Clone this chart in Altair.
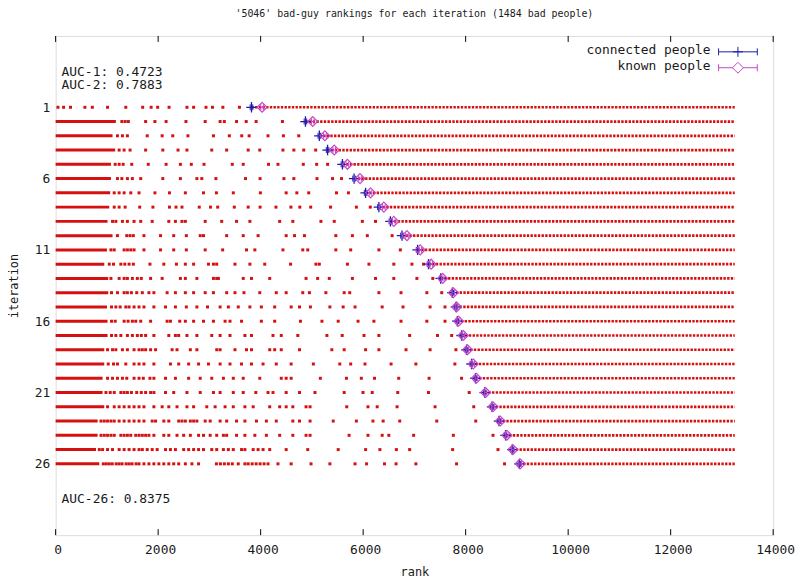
import altair as alt
import pandas as pd

# ---------------- data ----------------
iterations = list(range(1, 27))

# end of the solid (contiguous) run of red dots that starts at rank 0 (row 1 has none)
solid_end = [0, 1175, 1110, 1162, 1079, 1079, 1065, 1046, 1013, 1110, 1001, 949, 1026,
             1026, 1001, 1013, 1013, 949, 949, 916, 916, 949, 819, 819, 788, 852]

# isolated red dots between the solid run and the marker, per iteration
sparse = [
    [45, 155, 290, 571, 716, 1013, 1369, 1698, 1863, 1991, 2213, 2562, 2692, 2934, 3060, 3263, 3586],
    [1292, 1356, 1419, 1756, 1937, 2155, 2543, 2918, 3209, 3292, 3530, 3718, 3912, 4425],
    [1206, 1303, 1400, 1787, 2078, 2285, 2581, 3079, 3389, 3631, 3776, 4144, 4444, 4744],
    [1239, 1336, 1452, 1756, 2091, 2388, 2562, 3046, 3337, 3757, 3983, 4435, 4648, 4841, 5074],
    [1162, 1239, 1317, 1485, 1807, 2155, 2434, 2647, 2895, 3447, 3660, 4154, 4338, 4832, 5093, 5306],
    [1206, 1292, 1400, 1497, 1660, 2091, 2434, 2756, 2852, 3127, 3705, 3989, 4454, 4648, 5099, 5403, 5577],
    [1143, 1239, 1336, 1466, 1627, 1937, 2221, 2531, 2885, 3137, 3466, 3995, 4498, 4706, 4938, 5480, 5713],
    [1143, 1239, 1356, 1640, 1898, 2221, 2349, 2465, 2802, 3021, 3162, 3486, 3757, 3989, 4299, 4590, 4764,
     4977, 5364, 5868, 6139],
    [1110, 1175, 1303, 1400, 1530, 1660, 1884, 2208, 2337, 2465, 2531, 2918, 3240, 3530, 3790, 4371, 4628,
     5176, 5436, 5984, 6241],
    [1206, 1388, 1452, 1516, 1723, 2047, 2304, 2550, 2821, 2885, 3337, 3660, 3950, 4498, 4661, 4855, 5467,
     5790, 6081, 6565],
    [1079, 1143, 1336, 1400, 1466, 1530, 1723, 2047, 2304, 2550, 2918, 3259, 3724, 3887, 4435, 4822, 4919,
     5467, 5757, 6307, 6726],
    [1046, 1129, 1272, 1350, 1433, 1516, 1840, 2111, 2357, 2531, 2692, 2982, 3079, 3143, 3499, 3790, 4080,
     4584, 5079, 5145, 5693, 6113, 6598, 6952, 7179],
    [1079, 1239, 1336, 1400, 1497, 1594, 1671, 1853, 2078, 2434, 2531, 2756, 3079, 3143, 3176, 3660, 3821,
     4177, 4886, 5112, 5339, 5790, 6241, 6598, 7049, 7359],
    [1090, 1206, 1336, 1400, 1478, 1582, 1691, 1820, 1917, 2175, 2337, 2531, 2692, 2918, 3079, 3337, 3499,
     3674, 3983, 4305, 4498, 4822, 4952, 5273, 5630, 5738, 6307, 6739, 7243, 7533],
    [1090, 1175, 1259, 1369, 1433, 1530, 1627, 1723, 1917, 2144, 2337, 2550, 2756, 2963, 3209, 3370, 3563,
     3790, 4014, 4274, 4595, 4758, 4971, 5351, 5610, 5842, 6371, 6778, 7306, 7597],
    [1090, 1162, 1336, 1414, 1497, 1563, 1660, 1853, 2175, 2240, 2421, 2531, 2692, 2885, 3079, 3306, 3402,
     3627, 4014, 4274, 4777, 5196, 5513, 5900, 6210, 6739, 7243, 7597],
    [1090, 1175, 1272, 1400, 1497, 1594, 1671, 1756, 1917, 2208, 2337, 2401, 2562, 2756, 3046, 3209, 3402,
     3693, 3821, 4241, 4402, 4725, 5293, 5591, 6017, 6307, 6907, 7450, 7727],
    [1013, 1110, 1175, 1303, 1400, 1530, 1627, 1691, 1756, 1853, 1950, 2272, 2368, 2628, 2756, 3143, 3209,
     3499, 3724, 3821, 4177, 4274, 4402, 4758, 5389, 5630, 6048, 6307, 6836, 7306, 7810],
    [1026, 1129, 1206, 1369, 1530, 1627, 1723, 1917, 2240, 2401, 2595, 2789, 2982, 3209, 3402, 3627, 3821,
     4047, 4305, 4595, 5029, 5544, 5757, 6036, 6545, 7029, 7790],
    [1013, 1110, 1206, 1303, 1388, 1530, 1627, 1710, 1840, 1917, 2144, 2337, 2595, 2821, 3046, 3273, 3466,
     3660, 3983, 4402, 4498, 4595, 5165, 5674, 5964, 6222, 6694, 7287, 7920],
    [982, 1065, 1143, 1272, 1336, 1400, 1478, 1582, 1671, 1756, 1853, 1917, 2144, 2304, 2562, 2821, 3079,
     3209, 3466, 3660, 3906, 4144, 4241, 4498, 4758, 5060, 5630, 5997, 6177, 6675, 7275, 8069],
    [1013, 1143, 1239, 1336, 1433, 1530, 1627, 1723, 1917, 2078, 2208, 2368, 2562, 2692, 2949, 3112, 3306,
     3466, 3693, 3854, 4177, 4371, 4498, 4628, 4886, 4964, 5680, 6094, 6274, 6662, 7403, 8158],
    [885, 949, 1013, 1079, 1143, 1239, 1336, 1433, 1530, 1627, 1723, 1884, 1950, 2111, 2208, 2401, 2465,
     2531, 2628, 2692, 2756, 2918, 3015, 3209, 3337, 3530, 3693, 3918, 4112, 4305, 4628, 4758, 4964, 5416,
     5868, 6191, 6390, 6714, 7436, 8197],
    [885, 949, 1013, 1079, 1143, 1272, 1336, 1400, 1466, 1563, 1627, 1691, 1756, 1820, 1917, 2111, 2208,
     2368, 2498, 2628, 2789, 2885, 3015, 3143, 3273, 3337, 3530, 3693, 3887, 4112, 4371, 4628, 4886, 4964,
     5726, 6094, 6371, 6501, 6985, 7760, 8534],
    [852, 916, 1013, 1110, 1239, 1336, 1433, 1530, 1627, 1691, 1787, 1884, 1981, 2144, 2240, 2337, 2498,
     2595, 2692, 2789, 2885, 3046, 3143, 3273, 3370, 3466, 3627, 3693, 3854, 3950, 4047, 4177, 4498, 4919,
     5513, 6048, 6327, 6648, 6907, 7746, 8631],
    [930, 988, 1046, 1104, 1181, 1239, 1297, 1375, 1433, 1491, 1569, 1627, 1723, 1820, 1917, 2014, 2111,
     2208, 2304, 2401, 2531, 2659, 2789, 3137, 3215, 3292, 3370, 3447, 3563, 3693, 3757, 3834, 3912, 3989,
     4067, 4144, 4338, 4595, 4983, 5351, 5842, 6067, 6416, 6642, 7029, 7823, 8759],
]

# mean rank of connected / known people per iteration (with x error)
connected_rank = [3821, 4874, 5145, 5306, 5596, 5823, 6048, 6307, 6532, 6758, 7062, 7275, 7513,
                  7740, 7810, 7837, 7920, 8017, 8114, 8191, 8371, 8515, 8650, 8778, 8908, 9049]
known_rank = [4028, 5016, 5254, 5436, 5693, 5939, 6144, 6404, 6598, 6855, 7113, 7326, 7552,
              7759, 7823, 7862, 7953, 8036, 8147, 8211, 8391, 8534, 8675, 8805, 8921, 9063]
connected_err = [25, 25, 25, 25, 25, 25, 25, 25, 25, 25, 25, 25, 25,
                 25, 25, 25, 25, 25, 25, 25, 25, 25, 25, 25, 25, 25]
known_err = [25, 25, 25, 25, 25, 25, 25, 25, 25, 25, 25, 25, 25,
             25, 25, 25, 25, 25, 25, 25, 25, 25, 25, 25, 25, 25]

last_rank = 13250  # everyone ranked after the marker is dense up to here

x_ticks = [0, 2000, 4000, 6000, 8000, 10000, 12000, 14000]
y_ticks = [1, 6, 11, 16, 21, 26]

title_text = "'5046' bad-guy rankings for each iteration (1484 bad people)"
auc_texts = ["AUC-1: 0.4723", "AUC-2: 0.7883", "AUC-26: 0.8375"]
legend_labels = ["connected people", "known people"]

# ---------------- tables ----------------
dots_df = pd.DataFrame([{"iteration": it, "rank": r}
                        for it, row in zip(iterations, sparse) for r in row])
solid_df = pd.DataFrame([{"iteration": it, "start": 0, "end": e}
                         for it, e in zip(iterations, solid_end) if e > 0])
dense_df = pd.DataFrame({"iteration": iterations, "start": connected_rank,
                         "end": [last_rank] * len(iterations)})
mk_df = pd.DataFrame({
    "iteration": iterations,
    "conn": connected_rank,
    "conn_lo": [c - e for c, e in zip(connected_rank, connected_err)],
    "conn_hi": [c + e for c, e in zip(connected_rank, connected_err)],
    "known": known_rank,
    "known_lo": [k - e for k, e in zip(known_rank, known_err)],
    "known_hi": [k + e for k, e in zip(known_rank, known_err)],
})
tick_df = pd.DataFrame({"t": x_ticks})

# ---------------- styling ----------------
W, H = 723, 503
FONT = "DejaVu Sans Mono"
RED = "#d60f0f"
BLUE = "#1c1cae"
MAG = "#c845c8"
TXT = "#1a1a1a"
PLUS = "M-1,0H1M0,-1V1"
VBAR = "M0,-1V1"
DIAM = "M0,-1L1,0L0,1L-1,0Z"

XS = alt.Scale(domain=[0, 14000], nice=False, zero=False)
YS = alt.Scale(domain=[-4, 31], reverse=True, nice=False, zero=False)
x_axis = alt.Axis(values=x_ticks, title="rank", format="d", grid=False, ticks=False, domain=False,
                  labelFont=FONT, labelFontSize=13, labelColor=TXT, labelPadding=8, labelOffset=2,
                  labelFlush=False, titleFont=FONT, titleFontSize=12, titleFontWeight="normal",
                  titleColor=TXT, titleY=37, titleBaseline="middle")
y_axis = alt.Axis(values=y_ticks, title="iteration", format="d", grid=False, ticks=False, domain=False,
                  labelFont=FONT, labelFontSize=13, labelColor=TXT, labelPadding=6,
                  titleFont=FONT, titleFontSize=12, titleFontWeight="normal", titleColor=TXT,
                  titleX=-42, titleY=H / 2, titleAngle=270, titleBaseline="middle", titleAlign="center")


def X(f):
    return alt.X(f"{f}:Q", scale=XS, axis=x_axis)


def Y(f="iteration"):
    return alt.Y(f"{f}:Q", scale=YS, axis=y_axis)


layers = []

# dense region (right of the marker)
layers.append(alt.Chart(dense_df).mark_rule(color=RED, strokeWidth=2.7, strokeDash=[2.4, 1.3])
              .encode(x=X("start"), x2="end", y=Y()))
# solid run from rank 0
layers.append(alt.Chart(solid_df).mark_rule(color=RED, strokeWidth=3)
              .encode(x=X("start"), x2="end", y=Y()))
# isolated dots
layers.append(alt.Chart(dots_df).mark_square(color=RED, size=9, opacity=1)
              .encode(x=X("rank"), y=Y()))

# connected people: + with x error bars
mk = alt.Chart(mk_df)
layers.append(mk.mark_rule(color=BLUE, strokeWidth=1).encode(x=X("conn_lo"), x2="conn_hi", y=Y()))
layers.append(mk.mark_point(shape=VBAR, size=36, filled=False, color=BLUE, opacity=1, strokeWidth=1)
              .encode(x=X("conn_lo"), y=Y()))
layers.append(mk.mark_point(shape=VBAR, size=36, filled=False, color=BLUE, opacity=1, strokeWidth=1)
              .encode(x=X("conn_hi"), y=Y()))
layers.append(mk.mark_point(shape=PLUS, size=110, filled=False, color=BLUE, opacity=1, strokeWidth=1.3)
              .encode(x=X("conn"), y=Y()))
# known people: diamond with x error bars
layers.append(mk.mark_rule(color=MAG, strokeWidth=1).encode(x=X("known_lo"), x2="known_hi", y=Y()))
layers.append(mk.mark_point(shape=VBAR, size=36, filled=False, color=MAG, opacity=1, strokeWidth=1)
              .encode(x=X("known_lo"), y=Y()))
layers.append(mk.mark_point(shape=VBAR, size=36, filled=False, color=MAG, opacity=1, strokeWidth=1)
              .encode(x=X("known_hi"), y=Y()))
layers.append(mk.mark_point(shape=DIAM, size=100, filled=False, color=MAG, opacity=1, strokeWidth=1.2)
              .encode(x=X("known"), y=Y()))

# inward tick marks (bottom and mirrored top)
tk = alt.Chart(tick_df)
layers.append(tk.mark_rule(color="black", strokeWidth=1)
              .encode(x=X("t"), y=alt.value(H), y2=alt.value(H - 6)))
layers.append(tk.mark_rule(color="black", strokeWidth=1)
              .encode(x=X("t"), y=alt.value(0), y2=alt.value(6)))

# AUC annotations
one = pd.DataFrame({"k": [0]})
for txt, px, py in zip(auc_texts, [6, 6, 6], [36, 49.7, 467]):
    layers.append(alt.Chart(one).mark_text(text=txt, align="left", baseline="middle", font=FONT,
                                           fontSize=13, color=TXT)
                  .encode(x=alt.value(px), y=alt.value(py)))

# key (top right, inside the frame)
for lab, ty, ly, col, sym, ssize in [(legend_labels[0], 14.5, 16, BLUE, PLUS, 100),
                                     (legend_labels[1], 30.5, 32, MAG, DIAM, 120)]:
    layers.append(alt.Chart(one).mark_text(text=lab, align="right", baseline="middle", font=FONT,
                                           fontSize=13, color=TXT)
                  .encode(x=alt.value(660), y=alt.value(ty)))
    layers.append(alt.Chart(one).mark_rule(color=col, strokeWidth=1)
                  .encode(x=alt.value(668), x2=alt.value(707), y=alt.value(ly)))
    for cx in (668, 707):
        layers.append(alt.Chart(one).mark_point(shape=VBAR, size=49, filled=False, color=col,
                                                opacity=1, strokeWidth=1)
                      .encode(x=alt.value(cx), y=alt.value(ly)))
    if sym == DIAM:
        layers.append(alt.Chart(one).mark_point(shape=sym, size=ssize, filled=False, color=col,
                                                fill="white", opacity=1, strokeWidth=1)
                      .encode(x=alt.value(687.5), y=alt.value(ly)))
    else:
        layers.append(alt.Chart(one).mark_point(shape=sym, size=ssize, filled=False, color=col,
                                                opacity=1, strokeWidth=1)
                      .encode(x=alt.value(687.5), y=alt.value(ly)))

chart = alt.layer(*layers).properties(
    width=W, height=H,
    padding={"left": 48, "top": 26, "right": 22, "bottom": 42},
    autosize=alt.AutoSizeParams(type="none"),
    title=alt.TitleParams(text=title_text, font=FONT, fontSize=10, fontWeight="normal",
                          color=TXT, anchor="middle", offset=17),
).configure_view(stroke="black", strokeWidth=1).configure(background="white")

chart.save("out.html", embed_options={"renderer": "svg", "actions": False})
